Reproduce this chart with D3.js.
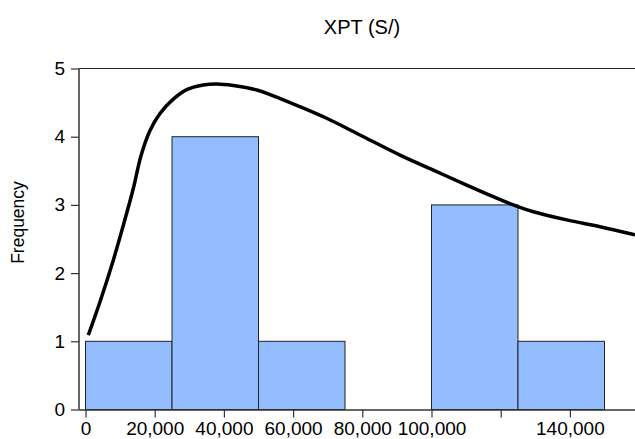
<!DOCTYPE html>
<html>
<head>
<meta charset="utf-8">
<script src="https://cdn.jsdelivr.net/npm/d3@7"></script>
<style>
  html, body { margin: 0; padding: 0; background: #fff; }
  svg { display: block; font-family: "Liberation Sans", Arial, sans-serif; }
</style>
</head>
<body>
<svg id="chart" width="635" height="439"></svg>
<script>
// ---- data ----
const binStarts = [0, 25000, 50000, 75000, 100000, 125000];
const binWidth = 25000;
const frequencies = [1, 4, 1, 0, 3, 1];

const densityX = [809, 4190, 8035, 10925, 13815, 16040, 18640, 21530, 25375, 29250, 34045, 37920, 42720, 49480, 54280, 61990, 69710, 79340, 90900, 100520, 110170, 117860, 123640, 129420, 139070, 148700, 158815];
const densityY = [1.09, 1.58, 2.19, 2.70, 3.24, 3.72, 4.09, 4.34, 4.55, 4.69, 4.758, 4.773, 4.751, 4.685, 4.60, 4.44, 4.27, 4.025, 3.73, 3.51, 3.29, 3.12, 3.0, 2.90, 2.78, 2.68, 2.56];

const xTickValues = [0, 20000, 40000, 60000, 80000, 100000, 120000, 140000];
const xTickLabels = ["0", "20,000", "40,000", "60,000", "80,000", "100,000", "", "140,000"];
const yTickValues = [0, 1, 2, 3, 4, 5];
const yTickLabels = ["0", "1", "2", "3", "4", "5"];

const title = "XPT (S/)";
const yTitle = "Frequency";

// ---- layout ----
const svg = d3.select("#chart");
const pL = 79, pR = 635, pT = 68.5, pB = 409.5;

const x = d3.scaleLinear().domain([-1880, 158815]).range([pL, pR]);
const y = d3.scaleLinear().domain([0, 5]).range([pB, pT]);

// bars
svg.append("g").selectAll("rect")
  .data(binStarts.map((s, i) => ({s, f: frequencies[i]})).filter(d => d.f > 0))
  .join("rect")
  .attr("x", d => x(d.s))
  .attr("y", d => y(d.f))
  .attr("width", d => x(d.s + binWidth) - x(d.s))
  .attr("height", d => y(0) - y(d.f))
  .attr("fill", "#94bdff")
  .attr("stroke", "#222")
  .attr("stroke-width", 1);

// density curve
const line = d3.line()
  .x((d, i) => x(densityX[i]))
  .y(d => y(d))
  .curve(d3.curveCatmullRom.alpha(0.5));
svg.append("path")
  .attr("d", line(densityY))
  .attr("fill", "none")
  .attr("stroke", "#000")
  .attr("stroke-width", 3.5)
  .attr("stroke-linejoin", "round");

// top border
svg.append("line")
  .attr("x1", pL).attr("x2", pR)
  .attr("y1", pT).attr("y2", pT)
  .attr("stroke", "#222").attr("stroke-width", 1);

// axes
const xAxis = d3.axisBottom(x)
  .tickValues(xTickValues)
  .tickFormat((d, i) => xTickLabels[i])
  .tickSizeInner(8).tickSizeOuter(0).tickPadding(4);
const gx = svg.append("g").attr("transform", `translate(0,${pB})`).call(xAxis);

const yAxis = d3.axisLeft(y)
  .tickValues(yTickValues)
  .tickFormat((d, i) => yTickLabels[i])
  .tickSizeInner(8).tickSizeOuter(0).tickPadding(6);
const gy = svg.append("g").attr("transform", `translate(${pL},0)`).call(yAxis);

gx.select(".domain").attr("d", `M${pL},0.5H${pR}`);
gy.select(".domain").attr("d", `M0,${pT}V${pB}`);

[gx, gy].forEach(g => {
  g.selectAll(".domain").attr("stroke", "#333").attr("stroke-width", 1.5);
  g.selectAll(".tick line").attr("stroke", "#333").attr("stroke-width", 1.2);
  g.selectAll(".tick text").attr("fill", "#000").attr("font-size", 19)
    .attr("font-family", "'Liberation Sans', Arial, sans-serif");
});

// titles
svg.append("text")
  .attr("x", 362).attr("y", 33.5)
  .attr("text-anchor", "middle")
  .attr("font-size", 20)
  .attr("fill", "#000")
  .text(title);

svg.append("text")
  .attr("transform", "translate(24,222.5) rotate(-90)")
  .attr("text-anchor", "middle")
  .attr("font-size", 17.5)
  .attr("fill", "#000")
  .text(yTitle);
</script>
</body>
</html>
